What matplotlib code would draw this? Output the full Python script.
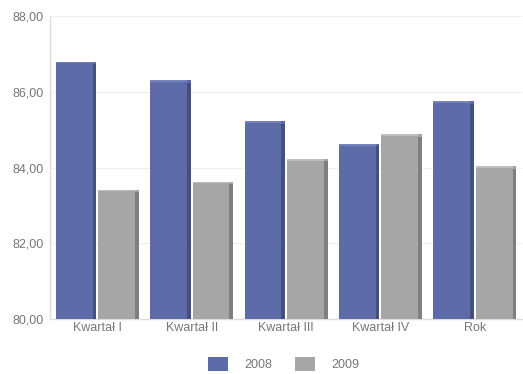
import matplotlib
matplotlib.use("Agg")
import matplotlib.pyplot as plt
from matplotlib.patches import Rectangle
import numpy as np

categories = ["Kwartał I", "Kwartał II", "Kwartał III", "Kwartał IV", "Rok"]
series_names = ["2008", "2009"]
values_2008 = [86.8, 86.3, 85.22, 84.62, 85.75]
values_2009 = [83.42, 83.63, 84.22, 84.88, 84.03]
y_ticks = [80, 82, 84, 86, 88]

face_colors = ["#5d6ca8", "#a6a6a6"]
side_colors = ["#45507f", "#7f7f7f"]
top_colors = ["#7483bb", "#bdbdbd"]

plt.rcParams["font.family"] = ["Liberation Sans", "DejaVu Sans"]

fig = plt.figure(figsize=(5.23, 3.74), dpi=100)
ax = fig.add_axes([0.096, 0.147, 0.902, 0.81])

x = np.arange(len(categories))
width = 0.43
offsets = [-0.225, 0.225]
base = 80.0

for vals, off, fc, sc, tc in zip([values_2008, values_2009], offsets,
                                 face_colors, side_colors, top_colors):
    ax.bar(x + off, np.array(vals) - base, width, bottom=base,
           color=fc, edgecolor="none", zorder=3)
    # darker right face giving the bars depth
    side_w = 0.04
    ax.bar(x + off + width / 2 - side_w / 2, np.array(vals) - base - 0.06,
           side_w, bottom=base, color=sc, edgecolor="none", zorder=4)
    # lighter top bevel
    ax.bar(x + off - side_w / 2, np.full(len(vals), 0.05), width - side_w,
           bottom=np.array(vals) - 0.05, color=tc, edgecolor="none", zorder=4)

ax.set_xlim(-0.5, len(categories) - 0.5)
ax.set_ylim(80, 88)
ax.set_yticks(y_ticks)
ax.set_yticklabels([f"{v:.2f}".replace(".", ",") for v in y_ticks])
ax.set_xticks(x)
ax.set_xticklabels(categories)
ax.tick_params(axis="both", labelsize=9, colors="#777777", length=0, pad=2)
ax.tick_params(axis="y", pad=5)
ax.grid(axis="y", color="#eeeeee", linewidth=0.8, zorder=0)
for s in ["top", "right"]:
    ax.spines[s].set_visible(False)
for s in ["left", "bottom"]:
    ax.spines[s].set_color("#dddddd")
    ax.spines[s].set_linewidth(1.0)

handles = [Rectangle((0, 0), 1, 1, facecolor=c, edgecolor="none") for c in face_colors]
fig.legend(handles, series_names, loc="lower center", bbox_to_anchor=(0.542, -0.022),
           ncol=2, frameon=False, fontsize=9, labelcolor="#777777",
           handlelength=1.6, handleheight=1.3, columnspacing=1.85, handletextpad=1.28)

fig.savefig("out.png", dpi=100)
